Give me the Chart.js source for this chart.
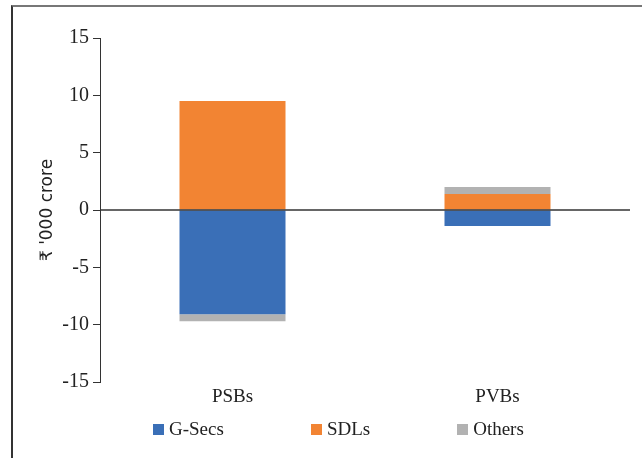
<!DOCTYPE html>
<html>
<head>
<meta charset="utf-8">
<script src="https://cdn.jsdelivr.net/npm/chart.js@4.4.1/dist/chart.umd.min.js"></script>
<style>
  html, body { margin: 0; padding: 0; background: #fff; }
  #wrap { position: relative; width: 642px; height: 458px; overflow: hidden; }
  #frame { position: absolute; left: 11px; top: 5px; width: 700px; height: 480px;
           border-top: 2px solid #777; border-left: 2px solid #333; box-sizing: border-box; }
  #chart { position: absolute; left: 0; top: 0; }
  #legend { position: absolute; left: 153px; top: 418px; display: flex; gap: 87px;
            font-family: "Liberation Serif", serif; font-size: 19px; color: #222; }
  #legend .item { display: flex; align-items: center; }
  #legend .box { width: 11px; height: 11px; margin-right: 5px; }
</style>
</head>
<body>
<div id="wrap">
  <div id="frame"></div>
  <canvas id="chart" width="642" height="458"></canvas>
  <div id="legend"></div>
</div>
<script>
// Bank groups and their net investment changes (₹ '000 crore)
const categories = ["PSBs", "PVBs"];
const gSecs  = [-9.1, -1.4];
const sdls   = [9.5, 1.4];
const others = [-0.6, 0.6];
const yTicks = [-15, -10, -5, 0, 5, 10, 15];

const seriesNames  = ["G-Secs", "SDLs", "Others"];
const seriesColors = ["#3a6fb7", "#f28433", "#b2b2b2"];

const FONT = "'Liberation Serif', serif";

// Horizontal line through zero across the plot area
const zeroLine = {
  id: "zeroLine",
  afterDatasetsDraw(chart) {
    const y = chart.scales.y.getPixelForValue(0);
    const { left, right } = chart.chartArea;
    const ctx = chart.ctx;
    ctx.save();
    ctx.strokeStyle = "#333";
    ctx.lineWidth = 1.5;
    ctx.beginPath();
    ctx.moveTo(left, y);
    ctx.lineTo(right, y);
    ctx.stroke();
    ctx.restore();
  }
};

const chart = new Chart(document.getElementById("chart"), {
  type: "bar",
  data: {
    labels: categories,
    datasets: [gSecs, sdls, others].map((d, i) => ({
      label: seriesNames[i],
      data: d,
      backgroundColor: seriesColors[i],
      borderWidth: 0,
      categoryPercentage: 1,
      barPercentage: 0.4
    }))
  },
  options: {
    responsive: false,
    animation: false,
    layout: { padding: { left: 37, right: 12, top: 38, bottom: 36 } },
    plugins: { legend: { display: false }, tooltip: { enabled: false } },
    scales: {
      x: {
        stacked: true,
        grid: { display: false },
        border: { display: false },
        ticks: { font: { family: FONT, size: 19 }, color: "#222", padding: -4 },
        afterFit(s) { s.height = 40; }
      },
      y: {
        stacked: true,
        min: -15, max: 15,
        afterBuildTicks(s) { s.ticks = yTicks.map(v => ({ value: v })); },
        grid: { drawOnChartArea: false, tickLength: 7, color: "#333", tickColor: "#333" },
        border: { display: true, color: "#333", width: 1 },
        ticks: { font: { family: FONT, size: 20 }, color: "#222", padding: 4 },
        title: { display: true, text: "₹ '000 crore", font: { family: "'DejaVu Sans', sans-serif", size: 17 }, color: "#222", padding: 0 },
        afterFit(s) { s.width = 63; }
      }
    }
  },
  plugins: [zeroLine]
});

// Legend built from the dataset names and colours
const legend = document.getElementById("legend");
seriesNames.forEach((name, i) => {
  const item = document.createElement("div");
  item.className = "item";
  const box = document.createElement("span");
  box.className = "box";
  box.style.background = seriesColors[i];
  const txt = document.createElement("span");
  txt.textContent = name;
  item.appendChild(box);
  item.appendChild(txt);
  legend.appendChild(item);
});
</script>
</body>
</html>
